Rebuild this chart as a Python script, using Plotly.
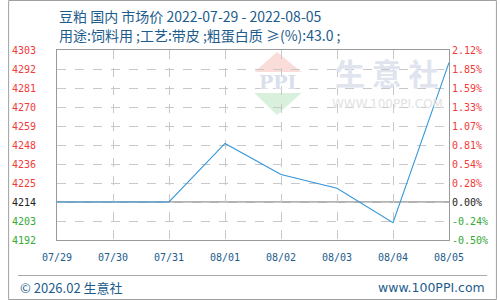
import plotly.graph_objects as go

dates = ["07/29", "07/30", "07/31", "08/01", "08/02", "08/03", "08/04", "08/05"]
prices = [4214, 4214, 4214, 4248, 4230, 4222, 4202, 4295]
base_price = 4214
left_labels = ["4192", "4203", "4214", "4225", "4236", "4248", "4259", "4270", "4281", "4292", "4303"]
right_labels = ["-0.50%", "-0.24%", "0.00%", "0.28%", "0.54%", "0.81%", "1.07%", "1.33%", "1.59%", "1.85%", "2.12%"]
title1 = "豆粕 国内 市场价 2022-07-29 - 2022-08-05"
title2 = "用途:饲料用 ;工艺:带皮 ;粗蛋白质 ≥(%):43.0 ;"

step = 11.04
tickvals = [base_price + (k - 2) * step for k in range(11)]
RED, GREEN, BLACK = "#f23a3a", "#33a833", "#222222"

def colored(labels):
    out = []
    for k, t in enumerate(labels):
        c = BLACK if k == 2 else (GREEN if k < 2 else RED)
        out.append(f"<span style='color:{c}'>{t}</span>")
    return out

L, R, T, B = 50, 49, 50, 60
PW, PH = 500 - L - R, 300 - T - B
def px(x):
    return (x - L) / PW
def py(y):
    return (300 - B - y) / PH

fig = go.Figure()
fig.add_trace(go.Scatter(x=dates, y=prices, mode="lines",
                         line=dict(color="#3496d8", width=1.1), hoverinfo="skip", showlegend=False))
fig.add_trace(go.Scatter(x=dates, y=prices, mode="lines", yaxis="y2",
                         line=dict(color="rgba(0,0,0,0)", width=0), hoverinfo="skip", showlegend=False))

mono = "DejaVu Sans Mono"
fig.update_layout(
    width=500, height=300, margin=dict(l=L, r=R, t=T, b=B),
    paper_bgcolor="white", plot_bgcolor="white",
    xaxis=dict(type="category", range=[0, len(dates) - 1], showgrid=True,
               gridcolor="#c8c8c8", griddash="dash", gridwidth=1,
               showline=True, linecolor="#999999", mirror=True, linewidth=1,
               ticks="", tickfont=dict(family=mono, size=10, color="#1d5c8c"),
               ticklabelstandoff=8, zeroline=False),
    yaxis=dict(range=[tickvals[0], tickvals[-1]], tickvals=tickvals, ticktext=colored(left_labels),
               showgrid=True, gridcolor="#c8c8c8", griddash="dash", gridwidth=1,
               showline=True, linecolor="#999999", mirror=True, linewidth=1,
               ticks="", tickfont=dict(family=mono, size=10), ticklabelstandoff=18, zeroline=False),
    yaxis2=dict(range=[tickvals[0], tickvals[-1]], tickvals=tickvals, ticktext=colored(right_labels),
                overlaying="y", side="right", showgrid=False, showline=False, ticks="",
                tickfont=dict(family=mono, size=10), ticklabelstandoff=2, zeroline=False),
)

shapes = []
shapes.append(dict(type="line", xref="paper", yref="y", x0=0, x1=1, y0=base_price, y1=base_price,
                   line=dict(color="#999999", width=1.5), layer="below"))
shapes.append(dict(type="path", xref="paper", yref="paper", layer="below",
                   path=f"M {px(275)} {py(52)} L {px(252)} {py(72)} L {px(300)} {py(72)} Z",
                   fillcolor="#fadcd8", line=dict(width=0)))
shapes.append(dict(type="path", xref="paper", yref="paper", layer="below",
                   path=f"M {px(252)} {py(93)} L {px(300)} {py(93)} L {px(275)} {py(115)} Z",
                   fillcolor="#d8f0dc", line=dict(width=0)))
shapes.append(dict(type="line", xref="paper", yref="paper", x0=px(10), x1=px(490), y0=py(275.5), y1=py(275.5),
                   line=dict(color="#aaaaaa", width=1)))
shapes.append(dict(type="rect", xref="paper", yref="paper", x0=px(0.5), x1=px(499.5), y0=py(299.5), y1=py(0.5),
                   line=dict(color="#a0a0a0", width=1)))
fig.update_layout(shapes=shapes)

ann = []
cjk = "Noto Sans CJK SC"
ann.append(dict(text=title1, x=px(50), y=py(15.5), xref="paper", yref="paper", xanchor="left", yanchor="middle",
                showarrow=False, font=dict(family=cjk, size=14, color="#1d5c8c")))
ann.append(dict(text=title2, x=px(50), y=py(34.5), xref="paper", yref="paper", xanchor="left", yanchor="middle",
                showarrow=False, font=dict(family=cjk, size=14, color="#1d5c8c")))
ann.append(dict(text="<b>PPI</b>", x=px(276), y=py(82), xref="paper", yref="paper", xanchor="center", yanchor="middle",
                showarrow=False, font=dict(family="DejaVu Serif", size=19, color="#d9dfec")))
ann.append(dict(text="<b>生 意 社</b>", x=px(388), y=py(72), xref="paper", yref="paper", xanchor="center", yanchor="middle",
                showarrow=False, font=dict(family=cjk, size=30, color="#dfe4ee")))
ann.append(dict(text="WWW.100PPI.COM", x=px(388), y=py(104), xref="paper", yref="paper", xanchor="center",
                yanchor="middle", showarrow=False, font=dict(family="DejaVu Sans", size=12, color="#e2e2e2")))
ann.append(dict(text="© 2026.02 生意社", x=px(10), y=py(287.5), xref="paper", yref="paper", xanchor="left",
                yanchor="middle", showarrow=False, font=dict(family=cjk, size=13, color="#1d5c8c")))
ann.append(dict(text="www.100PPI.com", x=px(490), y=py(287.5), xref="paper", yref="paper", xanchor="right",
                yanchor="middle", showarrow=False, font=dict(family="DejaVu Sans", size=12.5, color="#1d5c8c")))
fig.update_layout(annotations=ann)

fig.write_html("out.html")
